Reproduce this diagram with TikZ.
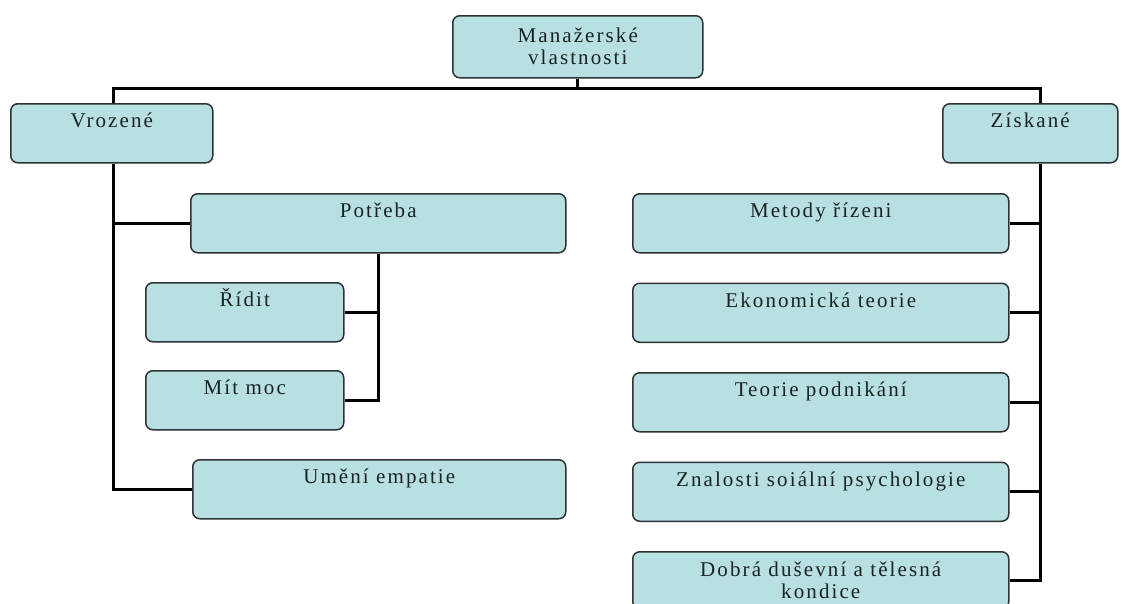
\documentclass[tikz,border=0pt]{standalone}
\usepackage{fontspec}
\setmainfont{Liberation Serif}[LetterSpace=10]
\usepackage{xcolor}
\usetikzlibrary{positioning}
\definecolor{boxfill}{RGB}{184,223,226}
\definecolor{boxline}{RGB}{45,50,50}
\definecolor{boxtext}{RGB}{25,35,35}

\begin{document}
\begin{tikzpicture}[x=1pt, y=-1pt, font=\fontsize{21}{22}\selectfont,
      box/.style={draw=boxline, line width=1.5pt, fill=boxfill,
                  rounded corners=7pt, text=boxtext, anchor=north west,
                  inner xsep=4pt, inner ysep=0pt, align=center},
      onel/.style={box, text height=24pt, text depth=35pt},
      twol/.style={box, minimum height=62pt},
      line/.style={draw=black, line width=3pt}
    ]
    \useasboundingbox (0,0) rectangle (1127,603);

    \node[twol, minimum width=250pt] (mgr) at (452,15)
          {Manažerské\\vlastnosti};

    \node[onel, minimum width=202pt] (vroz) at (10,103) {Vrozené};
    \node[onel, minimum width=175pt] (zisk) at (942,103) {Získané};

    % vrozene
    \node[onel, minimum width=375pt] (potr) at (190,193) {Potřeba};
    \node[onel, minimum width=198pt] (ridit) at (145,282) {Řídit};
    \node[onel, minimum width=198pt] (mit) at (145,370) {Mít moc};
    \node[onel, minimum width=373pt] (umeni) at (192,459) {Umění empatie};

    % ziskane
    \node[onel, minimum width=376pt] (metody) at (632,193) {Metody řízeni};
    \node[onel, minimum width=376pt, below=29pt of metody] (ekon)
          {Ekonomická teorie};
    \node[onel, minimum width=376pt, below=29pt of ekon] (podn)
          {Teorie podnikání};
    \node[onel, minimum width=376pt, below=29pt of podn] (znal)
          {Znalosti  soiální psychologie};
    \node[twol, minimum width=376pt, minimum height=57pt,
          below=29pt of znal] (dobra)
          {Dobrá duševní a tělesná\\kondice};

    \coordinate (ltrunk) at (113,88);
    \coordinate (rtrunk) at (1040,88);

    \draw[line] (mgr.south) -- (mgr.south |- ltrunk);
    \draw[line] (ltrunk |- vroz.north) -- (ltrunk) -- (rtrunk)
                -- (rtrunk |- zisk.north);

    \draw[line] (ltrunk |- vroz.south) |- (umeni.west);
    \draw[line] (ltrunk |- potr.west) -- (potr.west);
    \draw[line] (potr.south) |- (mit.east);
    \draw[line] (ridit.east) -- (ridit.east -| potr.south);

    \draw[line] (rtrunk |- zisk.south) |- (dobra.east);
    \foreach \b in {metody,ekon,podn,znal}{
      \draw[line] (\b.east) -- (\b.east -| rtrunk);
    }
  \end{tikzpicture}
\end{document}
